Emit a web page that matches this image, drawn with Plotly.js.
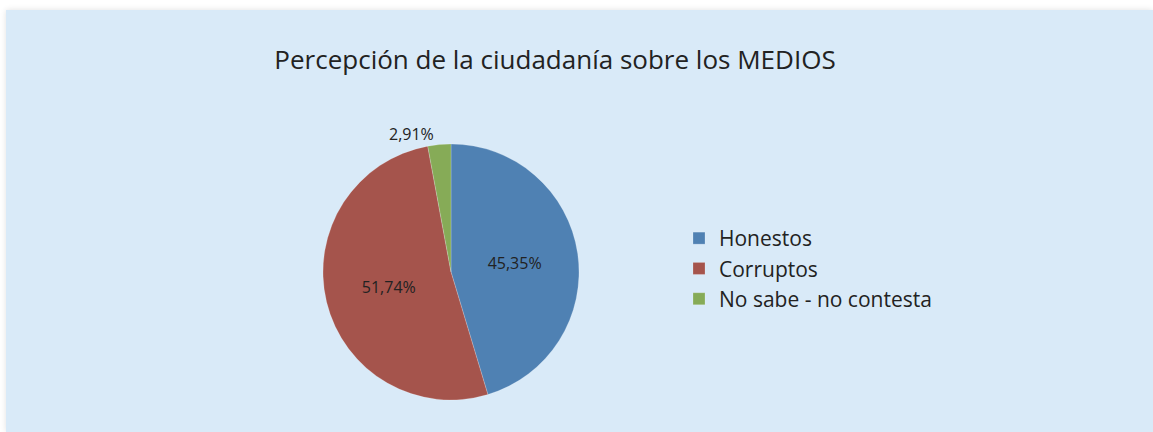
<!DOCTYPE html>
<html>
<head>
<meta charset="utf-8">
<script src="https://cdn.plot.ly/plotly-3.0.1.min.js"></script>
<style>
html,body{margin:0;padding:0;background:#ffffff;}
#chart{position:absolute;left:6px;top:10px;width:1147px;height:422px;box-shadow:0 0 6px rgba(0,0,0,0.12);}
</style>
</head>
<body>
<div id="chart"></div>
<script>
const categories = ["Honestos", "Corruptos", "No sabe - no contesta"];
const values = [45.35, 51.74, 2.91];
const colors = ["#4f81b3", "#a5544c", "#86ab57"];
const textPositions = ["inside", "inside", "outside"];

const W = 1147, H = 422;
const cx = 445, cy = 262, r = 128;
const FONT = "Open Sans, Noto Sans, sans-serif";

const trace = {
  type: "pie",
  labels: categories,
  values: values,
  sort: false,
  direction: "clockwise",
  rotation: 0,
  marker: {colors: colors, line: {color: "rgba(255,255,255,0.4)", width: 0.5}},
  texttemplate: "%{value:.2f}%",
  textposition: textPositions,
  insidetextorientation: "horizontal",
  textfont: {family: FONT, size: 16, color: "#222222"},
  outsidetextfont: {family: FONT, size: 16, color: "#222222"},
  insidetextfont: {family: FONT, size: 16, color: "#222222"},
  hoverinfo: "label+percent",
  domain: {
    x: [(cx - r) / W, (cx + r) / W],
    y: [(H - cy - r) / H, (H - cy + r) / H]
  }
};

const layout = {
  width: W,
  height: H,
  paper_bgcolor: "#d9eaf8",
  plot_bgcolor: "#d9eaf8",
  margin: {l: 0, r: 0, t: 0, b: 0},
  separators: ",.",
  title: {
    text: "Percepción de la ciudadanía sobre los MEDIOS",
    x: 549 / W,
    xanchor: "center",
    y: 1 - 50 / H,
    yanchor: "middle",
    font: {family: FONT, size: 26, color: "#222222"}
  },
  showlegend: true,
  legend: {
    x: 673 / W,
    xanchor: "left",
    y: 1 - 208 / H,
    yanchor: "top",
    bgcolor: "rgba(0,0,0,0)",
    font: {family: FONT, size: 21, color: "#222222"},
    traceorder: "normal",
    itemwidth: 30
  }
};

Plotly.newPlot("chart", [trace], layout, {staticPlot: true});
</script>
</body>
</html>
